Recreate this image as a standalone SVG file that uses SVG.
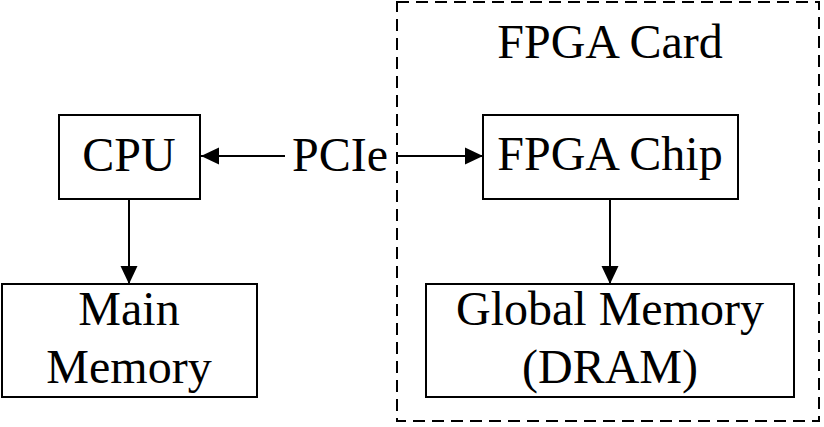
<svg xmlns="http://www.w3.org/2000/svg" width="824" height="427" viewBox="0 0 824 427">
<style>
.box{fill:#fff;stroke:#000;stroke-width:2}
.t{font-family:"Liberation Serif","Times New Roman",serif;font-size:48px;fill:#000;text-anchor:middle}
.c{stroke:#000;stroke-width:2;fill:none;marker-end:url(#ah)}
</style>
<defs>
<marker id="ah" markerUnits="userSpaceOnUse" markerWidth="20" markerHeight="20" refX="18" refY="10" orient="auto" viewBox="0 0 20 20">
<path d="M0,1.5 L18,10 L0,18.5 Z" fill="#000"/>
</marker>
</defs>
<g id="fpga-card">
<rect x="397" y="2" width="422" height="419" fill="none" stroke="#000" stroke-width="2" stroke-dasharray="12,7"/>
<text class="t" x="610" y="58">FPGA Card</text>
</g>
<g id="cpu">
<rect class="box" x="59" y="115" width="141" height="84"/>
<text class="t" x="129" y="171">CPU</text>
</g>
<g id="main-memory">
<rect class="box" x="2" y="284" width="255" height="113"/>
<text class="t" x="129" y="325">Main</text>
<text class="t" x="129" y="383">Memory</text>
</g>
<g id="fpga-chip">
<rect class="box" x="483" y="115" width="255" height="84"/>
<text class="t" x="610" y="170">FPGA Chip</text>
</g>
<g id="global-memory">
<rect class="box" x="426" y="284" width="368" height="113"/>
<text class="t" x="610" y="325">Global Memory</text>
<text class="t" x="610" y="383">(DRAM)</text>
</g>
<g id="connectors">
<text class="t" x="340" y="171">PCIe</text>
<line class="c" x1="285" y1="156" x2="201" y2="156"/>
<line class="c" x1="398" y1="156" x2="483" y2="156"/>
<line class="c" x1="129" y1="199" x2="129" y2="284"/>
<line class="c" x1="610" y1="199" x2="610" y2="284"/>
</g>
</svg>
